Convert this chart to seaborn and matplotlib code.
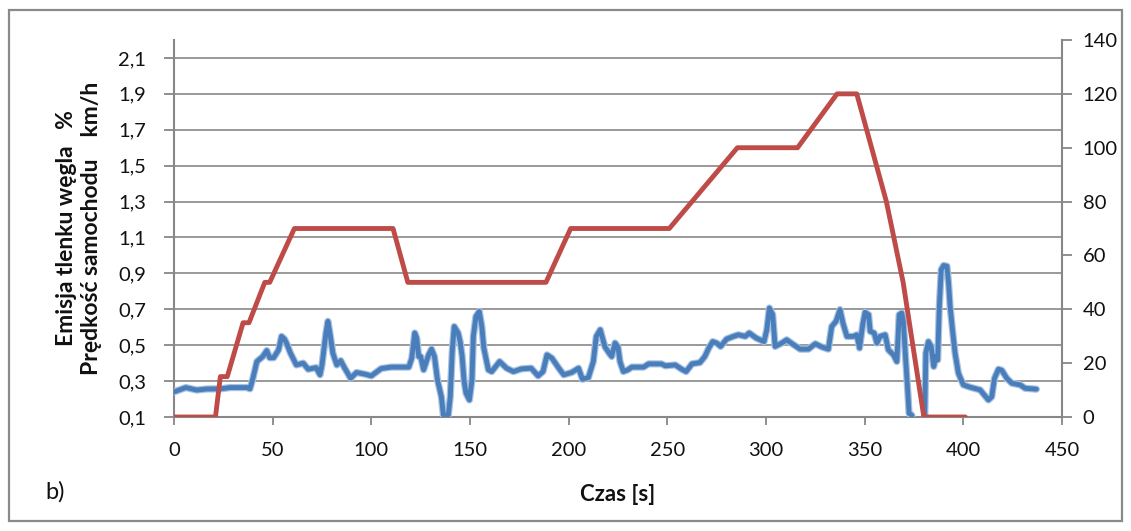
import matplotlib
matplotlib.use("Agg")
import matplotlib.pyplot as plt
from matplotlib.patches import Rectangle
from matplotlib.ticker import FixedLocator, FuncFormatter
import seaborn as sns
import pandas as pd

# Carbon monoxide emission [%] over time [s]
co_time = [0, 6, 11.5, 16.5, 23.5, 28.5, 37, 38.5, 40, 42, 45, 47, 48.5, 50.5, 53, 54.5, 56, 57, 59,
           62, 65.5, 68, 72, 74, 75, 77, 78, 79, 80.5, 82.5, 84.5, 86.5, 89.5, 92.5, 97, 100, 105, 110,
           119, 120.5, 122, 123, 124, 125, 126.5, 129, 130.5, 132, 133.5, 135.5, 136.5, 139, 140, 141,
           142, 144, 145, 146, 147, 148, 149.7, 151, 151.7, 153, 154.7, 156, 157, 159.3, 161, 165,
           168.5, 172, 176, 181, 184.5, 187, 189, 191.5, 195, 197.5, 201.5, 205, 207, 210, 212.5, 214,
           216, 217.3, 218.4, 220.5, 221.8, 223.5, 225, 226, 227.7, 230, 232, 238, 240.5, 247, 249,
           254, 257.3, 259.5, 262.5, 266.5, 269, 271, 273, 275, 277, 280, 283.5, 286, 289.5, 291.5,
           295, 299, 300.4, 301.7, 303.4, 304.6, 308, 310.5, 313, 317.3, 321.5, 325, 328.3, 331.6,
           333.3, 335.5, 337.5, 339, 341, 344.3, 346, 347.4, 349, 350.2, 352, 352.8, 354.8, 356.2,
           357.8, 360.4, 362, 364.6, 366.3, 367.5, 368.8, 369.6, 370.8, 371.9, 372.5, 373.9, 374.5,
           380.3, 381, 382.3, 383.7, 385, 386, 387, 387.8, 388.8, 390, 391.7, 392.5, 393.3, 394.5,
           395.8, 397.5, 400, 403.4, 408.5, 410.2, 412.7, 414.4, 415.8, 417.8, 419.5, 422, 424.6,
           428.8, 431.3, 437]
co_pct = [0.24, 0.264, 0.25, 0.256, 0.257, 0.264, 0.264, 0.257, 0.316, 0.409, 0.437, 0.47, 0.43, 0.43,
          0.474, 0.549, 0.534, 0.512, 0.456, 0.39, 0.40, 0.366, 0.375, 0.335, 0.39, 0.568, 0.633,
          0.568, 0.456, 0.39, 0.414, 0.372, 0.316, 0.348, 0.338, 0.329, 0.37, 0.378, 0.378, 0.428,
          0.568, 0.54, 0.437, 0.437, 0.363, 0.446, 0.478, 0.437, 0.307, 0.213, 0.11, 0.11, 0.213,
          0.465, 0.604, 0.568, 0.52, 0.44, 0.3, 0.232, 0.195, 0.307, 0.549, 0.66, 0.688, 0.604,
          0.484, 0.363, 0.353, 0.409, 0.372, 0.353, 0.368, 0.372, 0.329, 0.353, 0.446, 0.428, 0.372,
          0.335, 0.348, 0.372, 0.31, 0.32, 0.409, 0.549, 0.586, 0.534, 0.49, 0.456, 0.437, 0.512,
          0.49, 0.409, 0.353, 0.363, 0.378, 0.378, 0.396, 0.396, 0.385, 0.39, 0.366, 0.353, 0.396,
          0.403, 0.437, 0.484, 0.52, 0.512, 0.493, 0.534, 0.549, 0.558, 0.549, 0.568, 0.54, 0.52,
          0.586, 0.707, 0.67, 0.493, 0.512, 0.53, 0.51, 0.478, 0.478, 0.508, 0.49, 0.478, 0.604,
          0.633, 0.698, 0.623, 0.549, 0.549, 0.558, 0.484, 0.614, 0.683, 0.67, 0.577, 0.568, 0.512,
          0.549, 0.558, 0.474, 0.446, 0.409, 0.67, 0.679, 0.632, 0.418, 0.232, 0.12, 0.11, 0.0, 0.0,
          0.456, 0.52, 0.493, 0.381, 0.437, 0.418, 0.707, 0.921, 0.944, 0.94, 0.847, 0.716, 0.586,
          0.456, 0.344, 0.279, 0.266, 0.251, 0.228, 0.195, 0.213, 0.316, 0.366, 0.36, 0.316, 0.288,
          0.279, 0.26, 0.255]

# Vehicle speed [km/h] – driving cycle breakpoints
speed_time = [0, 21, 23.5, 27, 35, 38, 46, 48.5, 61, 111, 118.5, 188.5, 201, 251, 285.5, 316, 336,
              346, 361, 369.5, 380, 401]
speed_kmh = [0, 0, 15, 15, 35, 35, 50, 50, 70, 70, 50, 50, 70, 70, 100, 100, 120, 120, 80, 50, 0, 0]

x_ticks = [0, 50, 100, 150, 200, 250, 300, 350, 400, 450]
left_ticks = [0.1, 0.3, 0.5, 0.7, 0.9, 1.1, 1.3, 1.5, 1.7, 1.9, 2.1]
right_ticks = [0, 20, 40, 60, 80, 100, 120, 140]

co_df = pd.DataFrame({"t": co_time, "co": co_pct})
speed_df = pd.DataFrame({"t": speed_time, "v": speed_kmh})

sns.set_theme(style="white")
plt.rcParams["font.family"] = ["Lato", "DejaVu Sans"]

GRID = "#878787"
BLUE = "#4a7ebb"
RED = "#be4b48"
TXT = "#111111"

fig = plt.figure(figsize=(11.31, 5.31), dpi=100)
ax = fig.add_axes([174 / 1131, 1 - 417 / 531, (1062 - 174) / 1131, (417 - 40) / 531])
ax2 = ax.twinx()

# emission curve with a soft halo
sns.lineplot(data=co_df, x="t", y="co", ax=ax, color="#a8c2e2", linewidth=5.2,
             estimator=None, sort=False, legend=False, zorder=3)
sns.lineplot(data=co_df, x="t", y="co", ax=ax, color=BLUE, linewidth=3.5,
             estimator=None, sort=False, legend=False, zorder=4)
sns.lineplot(data=speed_df, x="t", y="v", ax=ax2, color=RED, linewidth=3.5,
             estimator=None, sort=False, legend=False, zorder=5)

ax.set_xlim(0, 450)
ax.set_ylim(0.1, 2.2)
ax2.set_ylim(0, 140)
ax.xaxis.set_major_locator(FixedLocator(x_ticks))
ax.yaxis.set_major_locator(FixedLocator(left_ticks))
ax2.yaxis.set_major_locator(FixedLocator(right_ticks))
ax.yaxis.set_major_formatter(FuncFormatter(lambda v, p: f"{v:.1f}".replace(".", ",")))
ax.xaxis.set_major_formatter(FuncFormatter(lambda v, p: f"{v:g}"))
ax2.yaxis.set_major_formatter(FuncFormatter(lambda v, p: f"{v:g}"))

ax.grid(axis="y", color=GRID, linewidth=1.2)
ax.grid(axis="x", visible=False)
ax2.grid(False)
ax.set_axisbelow(True)
ax2.set_zorder(ax.get_zorder() + 1)
ax2.patch.set_visible(False)

for a in (ax, ax2):
    a.spines["top"].set_visible(False)
    for s in ("left", "right", "bottom"):
        a.spines[s].set_color(GRID)
        a.spines[s].set_linewidth(1.5)
ax.spines["right"].set_visible(False)
ax2.spines["left"].set_visible(False)
ax2.spines["bottom"].set_visible(False)

ax.tick_params(axis="x", direction="out", length=6, width=1.3, color=GRID, pad=12,
               labelsize=14.5, labelcolor=TXT, bottom=True)
ax.tick_params(axis="y", direction="out", length=7, width=1.3, color=GRID, pad=13,
               labelsize=14.5, labelcolor=TXT, left=True)
ax2.tick_params(axis="y", direction="out", length=7, width=1.3, color=GRID, pad=8,
                labelsize=14.5, labelcolor=TXT, right=True)

ax.set_xlabel("Czas [s]", fontsize=16, fontweight="bold", color=TXT, labelpad=18)
ax.set_ylabel("Emisja tlenku węgla   %\nPrędkość samochodu    km/h", fontsize=16.5,
              fontweight="bold", color=TXT, linespacing=1.2, labelpad=12,
              multialignment="center")
ax2.set_ylabel("")

fig.text(45 / 1131, 1 - 492 / 531, "b)", fontsize=17, color=TXT, va="center", ha="left")

fig.patches.append(Rectangle((9 / 1131, 1 - 521 / 531), 1113 / 1131, 511 / 531,
                             transform=fig.transFigure, fill=False, edgecolor="#8a8a8a",
                             linewidth=1.6))

fig.savefig("out.png", dpi=100)
